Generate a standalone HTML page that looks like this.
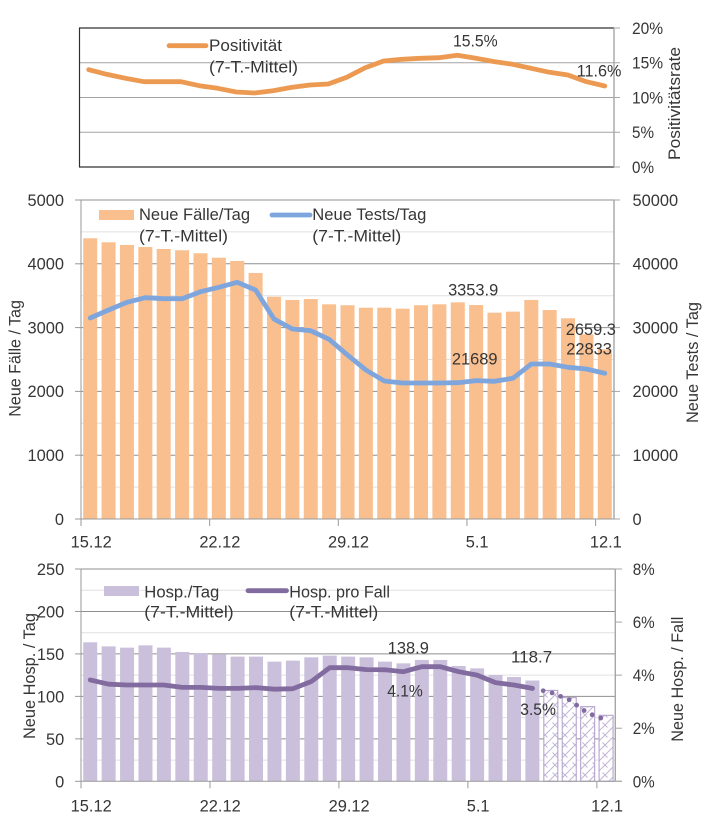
<!DOCTYPE html>
<html lang="de">
<head>
<meta charset="utf-8">
<title>Positivität, Neue Fälle und Hospitalisierungen</title>
<style>
html,body{margin:0;padding:0;background:#fff;width:709px;height:833px;overflow:hidden}
svg{display:block;filter:blur(0.35px)}
text{font-family:"Liberation Sans",sans-serif;font-size:16.5px;fill:#363636}
</style>
</head>
<body>
<svg id="chart" xmlns="http://www.w3.org/2000/svg" width="709" height="833" viewBox="0 0 709 833">
  <defs>
    <pattern id="hatch" patternUnits="userSpaceOnUse" width="10" height="10">
      <rect width="10" height="10" fill="#ffffff"/>
      <path d="M-1 11 L11 -1 M-1 1 L1 -1 M9 11 L11 9 M2.5 2.5 L7.5 7.5" stroke="#c2b5d6" stroke-width="1" fill="none"/>
    </pattern>
  </defs>
  <g id="top-panel"></g>
  <g id="mid-panel"></g>
  <g id="bottom-panel"></g>
</svg>
<script>
// ---------- data ----------
const dayCount = 29;
const dateTickIndex = [0, 7, 14, 21, 28];
const dateTickLabels = ['15.12', '22.12', '29.12', '5.1', '12.1'];

const positivity = [14.0, 13.33, 12.76, 12.28, 12.28, 12.28, 11.7, 11.32, 10.79, 10.65, 10.98, 11.46, 11.8, 11.94, 12.9, 14.29, 15.25, 15.49, 15.64, 15.73, 16.07, 15.64, 15.16, 14.77, 14.2, 13.62, 13.24, 12.28, 11.65];
const positivityTicks = [0, 5, 10, 15, 20];
const positivityTickLabels = ['0%', '5%', '10%', '15%', '20%'];

const newCases = [4400, 4337, 4295, 4263, 4232, 4212, 4165, 4096, 4044, 3856, 3484, 3433, 3448, 3365, 3350, 3312, 3312, 3296, 3350, 3365, 3396, 3353.9, 3234, 3250, 3433, 3276, 3146, 2895, 2659.3];
const newTests = [31505, 32759, 33960, 34692, 34535, 34535, 35632, 36312, 37096, 35893, 31348, 29781, 29520, 28161, 25705, 23354, 21630, 21316, 21316, 21316, 21369, 21689, 21577, 22048, 24295, 24295, 23772, 23511, 22833];
const caseTicks = [0, 1000, 2000, 3000, 4000, 5000];
const caseMinorTicks = [500, 1500, 2500, 3500, 4500];
const testTicks = [0, 10000, 20000, 30000, 40000, 50000];

const hospitalised = [163.7, 158.9, 157.4, 160.1, 157.4, 152.3, 151.1, 149.5, 146.8, 146.8, 140.9, 142.1, 146, 148, 146.8, 146, 140.9, 138.9, 142.9, 142.9, 135.8, 133, 125.2, 122.8, 118.7];
const hospitalisedForecast = [107, 98.5, 87.9, 77.7];
const hospPerCase = [3.82, 3.66, 3.63, 3.63, 3.63, 3.54, 3.54, 3.5, 3.5, 3.53, 3.47, 3.49, 3.76, 4.28, 4.28, 4.21, 4.2, 4.13, 4.32, 4.32, 4.13, 4.0, 3.72, 3.63, 3.5];
const hospPerCaseForecast = [3.5, 3.35, 3.07, 2.57, 2.31];
const hospTicks = [0, 50, 100, 150, 200, 250];
const hospMinorTicks = [25, 75, 125, 175, 225];
const rateTicks = [0, 2, 4, 6, 8];
const rateTickLabels = ['0%', '2%', '4%', '6%', '8%'];

// ---------- axis functions ----------
const NS = 'http://www.w3.org/2000/svg';
const HOSP_RIGHT = 615.3;
const xTopBand = i => 79.5 + (614 - 79.5) / dayCount * (i + 0.5);
const xBand = i => 81 + (614 - 81) / dayCount * (i + 0.5);
const xBandLeft = i => 81 + (614 - 81) / dayCount * i;
const xHospBand = i => 81 + (HOSP_RIGHT - 81) / dayCount * (i + 0.5);
const xHospBandLeft = i => 81 + (HOSP_RIGHT - 81) / dayCount * i;
const yPositivity = v => 167 - v / 20 * 139;
const yCases = v => 519 - v / 5000 * 319;
const yTests = v => 519 - v / 50000 * 319;
const yHosp = v => 781.3 - v / 250 * 212.3;
const yRate = v => 781.3 - v / 8 * 212.3;

// ---------- helpers ----------
function textWidth(s) {
  let w = 0;
  for (const c of s) {
    if (c === '.') w += 4.53;
    else if (c === '%') w += 12.87;
    else w += 9.13;
  }
  return w;
}
function addLine(parent, name, x1, y1, x2, y2, color, width) {
  const el = document.createElementNS(NS, 'line');
  
  
  el.setAttribute('x1', x1);
  el.setAttribute('y1', y1);
  el.setAttribute('x2', x2);
  el.setAttribute('y2', y2);
  el.setAttribute('stroke', color);
  el.setAttribute('stroke-width', width);
  parent.appendChild(el);
  return el;
}
function addText(parent, name, str, x, y, anchor, length, rotate) {
  const el = document.createElementNS(NS, 'text');
  
  
  el.setAttribute('x', x);
  el.setAttribute('y', y);
  el.setAttribute('text-anchor', anchor || 'start');
  if (length) {
    el.setAttribute('textLength', length);
    el.setAttribute('lengthAdjust', 'spacingAndGlyphs');
  }
  if (rotate) el.setAttribute('transform', 'rotate(-90 ' + x + ' ' + y + ')');
  el.textContent = str;
  parent.appendChild(el);
  return el;
}
function addNumber(parent, name, str, x, y, anchor) {
  return addText(parent, name, str, x, y, anchor, textWidth(str));
}
function addRect(parent, name, x, y, w, h, fill, stroke) {
  const el = document.createElementNS(NS, 'rect');
  
  
  el.setAttribute('x', x);
  el.setAttribute('y', y);
  el.setAttribute('width', w);
  el.setAttribute('height', h);
  el.setAttribute('fill', fill);
  if (stroke) {
    el.setAttribute('stroke', stroke);
    el.setAttribute('stroke-width', 1.1);
  }
  parent.appendChild(el);
  return el;
}
function addPolyline(parent, name, values, xFn, yFn, color, width, offset) {
  const el = document.createElementNS(NS, 'polyline');
  
  
  el.setAttribute('points', values.map((v, i) => xFn(i + (offset || 0)).toFixed(1) + ',' + yFn(v).toFixed(1)).join(' '));
  el.setAttribute('fill', 'none');
  el.setAttribute('stroke', color);
  el.setAttribute('stroke-width', width);
  el.setAttribute('stroke-linecap', 'round');
  el.setAttribute('stroke-linejoin', 'round');
  parent.appendChild(el);
  return el;
}
function addDateAxis(parent, baseY, labelY, bandFn, leftFn) {
  dateTickIndex.forEach((idx, k) => {
    addLine(parent, 'x-axis-tick', leftFn(idx), baseY, leftFn(idx), baseY + 7, '#999999', 1);
    addNumber(parent, 'x-axis-label', dateTickLabels[k], bandFn(idx) + 1, labelY, 'middle');
  });
}

// ---------- top panel ----------
const posPanel = document.getElementById('top-panel');
[5, 10, 15].forEach(v => {
  addLine(posPanel, 'gridline', 79.5, yPositivity(v), 614, yPositivity(v), '#a3a3a3', 1);
});
addLine(posPanel, 'plot-top-border', 79, yPositivity(20), 614, yPositivity(20), '#303030', 1.2);
addLine(posPanel, 'plot-bottom-border', 79, yPositivity(0), 614, yPositivity(0), '#303030', 1.2);
addLine(posPanel, 'plot-left-border', 79.5, yPositivity(20), 79.5, yPositivity(0), '#303030', 1.2);
addLine(posPanel, 'right-axis-line', 614, yPositivity(20), 614, yPositivity(0), '#a6a6a6', 1.4);
positivityTicks.forEach((v, k) => {
  addLine(posPanel, 'right-axis-tick', 614, yPositivity(v), 620, yPositivity(v), '#a6a6a6', 1);
  addNumber(posPanel, 'right-axis-label', positivityTickLabels[k], 632, yPositivity(v) + 5.8, 'start');
});
addPolyline(posPanel, 'positivity-line', positivity, xTopBand, yPositivity, '#ec9a52', 4.8);
addLine(posPanel, 'legend-positivity-swatch', 169, 45.7, 206, 45.7, '#ec9a52', 4.8).setAttribute('stroke-linecap', 'round');
addText(posPanel, 'legend-positivity-label', 'Positivität', 209, 51, 'start', 73);
addText(posPanel, 'legend-positivity-sublabel', '(7-T.-Mittel)', 209, 72.7, 'start', 89);
addNumber(posPanel, 'label-peak-positivity', '15.5%', xTopBand(20) + 18, yPositivity(positivity[20]) - 8.6, 'middle');
addNumber(posPanel, 'label-last-positivity', '11.6%', xTopBand(28) - 5.7, yPositivity(positivity[28]) - 9.3, 'middle');
addText(posPanel, 'right-axis-title', 'Positivitätsrate', 680, 160, 'start', 113, true);

// ---------- middle panel ----------
const casePanel = document.getElementById('mid-panel');
caseMinorTicks.forEach(v => {
  addLine(casePanel, 'minor-gridline', 81, yCases(v), 614, yCases(v), '#e0e0e0', 1);
});
caseTicks.slice(1).forEach(v => {
  addLine(casePanel, 'gridline', 81, yCases(v), 614, yCases(v), '#8f8f8f', 1);
});
newCases.forEach((v, i) => {
  addRect(casePanel, 'case-bar', xBand(i) - 7, yCases(v), 14, yCases(0) - yCases(v), '#f9bf8e');
});
addLine(casePanel, 'left-axis-line', 81, yCases(5000), 81, yCases(0) + 7, '#999999', 1);
addLine(casePanel, 'right-axis-line', 614, yCases(5000), 614, yCases(0), '#a6a6a6', 1.4);
addLine(casePanel, 'x-axis-line', 81, yCases(0), 620, yCases(0), '#999999', 1);
caseTicks.forEach(v => {
  addLine(casePanel, 'left-axis-tick', 75, yCases(v), 81, yCases(v), '#999999', 1);
  addNumber(casePanel, 'left-axis-label', String(v), 64, yCases(v) + 5.8, 'end');
});
testTicks.forEach(v => {
  addLine(casePanel, 'right-axis-tick', 614, yTests(v), 620, yTests(v), '#a6a6a6', 1);
  addNumber(casePanel, 'right-axis-label', String(v), 632.5, yTests(v) + 5.8, 'start');
});
addDateAxis(casePanel, yCases(0), 547.7, xBand, xBandLeft);
addPolyline(casePanel, 'tests-line', newTests, xBand, yTests, '#7fa6dc', 4.8);
addRect(casePanel, 'legend-cases-swatch', 99, 210, 35, 10, '#f9bf8e');
addText(casePanel, 'legend-cases-label', 'Neue Fälle/Tag', 139, 220, 'start', 111);
addText(casePanel, 'legend-cases-sublabel', '(7-T.-Mittel)', 139, 241.3, 'start', 89);
addLine(casePanel, 'legend-tests-swatch', 272, 215, 310, 215, '#7fa6dc', 4.8).setAttribute('stroke-linecap', 'round');
addText(casePanel, 'legend-tests-label', 'Neue Tests/Tag', 312.3, 220, 'start', 114);
addText(casePanel, 'legend-tests-sublabel', '(7-T.-Mittel)', 312.3, 241.3, 'start', 89);
addNumber(casePanel, 'label-cases-mid', '3353.9', xBand(21) - 3, yCases(newCases[21]) - 9.3, 'middle');
addNumber(casePanel, 'label-cases-last', '2659.3', xBand(28) - 14, yCases(newCases[28]) - 14.3, 'middle');
addNumber(casePanel, 'label-tests-last', '22833', xBand(28) - 15.7, yTests(newTests[28]) - 19, 'middle');
addNumber(casePanel, 'label-tests-mid', '21689', xBand(21) - 1.4, yTests(newTests[21]) - 16.3, 'middle');
addText(casePanel, 'left-axis-title', 'Neue Fälle / Tag', 20.7, 416.7, 'start', 116.7, true);
addText(casePanel, 'right-axis-title', 'Neue Tests / Tag', 698, 423, 'start', 121, true);

// ---------- bottom panel ----------
const hospPanel = document.getElementById('bottom-panel');
hospMinorTicks.forEach(v => {
  addLine(hospPanel, 'minor-gridline', 81, yHosp(v), HOSP_RIGHT, yHosp(v), '#e0e0e0', 1);
});
hospTicks.slice(1).forEach(v => {
  addLine(hospPanel, 'gridline', 81, yHosp(v), HOSP_RIGHT, yHosp(v), '#8f8f8f', 1);
});
hospitalised.forEach((v, i) => {
  addRect(hospPanel, 'hospital-bar', xHospBand(i) - 7, yHosp(v), 14, yHosp(0) - yHosp(v), '#cbc0dc');
});
hospitalisedForecast.forEach((v, i) => {
  addRect(hospPanel, 'hospital-forecast-bar', xHospBand(i + hospitalised.length) - 7, yHosp(v), 14, yHosp(0) - yHosp(v), 'url(#hatch)', '#b5a5cd');
});
addLine(hospPanel, 'left-axis-line', 81, yHosp(250), 81, yHosp(0) + 7, '#999999', 1);
addLine(hospPanel, 'right-axis-line', HOSP_RIGHT, yHosp(250), HOSP_RIGHT, yHosp(0), '#a6a6a6', 1.4);
addLine(hospPanel, 'x-axis-line', 81, yHosp(0), 622, yHosp(0), '#999999', 1);
hospTicks.forEach(v => {
  addLine(hospPanel, 'left-axis-tick', 75, yHosp(v), 81, yHosp(v), '#999999', 1);
  addNumber(hospPanel, 'left-axis-label', String(v), 64.3, yHosp(v) + 6, 'end');
});
rateTicks.forEach((v, k) => {
  addLine(hospPanel, 'right-axis-tick', HOSP_RIGHT, yRate(v), 622, yRate(v), '#a6a6a6', 1);
  addNumber(hospPanel, 'right-axis-label', rateTickLabels[k], 632.7, yRate(v) + 6, 'start');
});
addDateAxis(hospPanel, yHosp(0), 811.7, xHospBand, xHospBandLeft);
addPolyline(hospPanel, 'hospital-rate-line', hospPerCase, xHospBand, yRate, '#826b9f', 4.8);
const dotted = addPolyline(hospPanel, 'hospital-rate-forecast-line', hospPerCaseForecast, xHospBand, yRate, '#826b9f', 4.8, 24);
dotted.setAttribute('stroke-dasharray', '0 11 ' + '0 9.2 '.repeat(9));
addRect(hospPanel, 'legend-hospital-swatch', 104, 586, 35, 10, '#cbc0dc');
addText(hospPanel, 'legend-hospital-label', 'Hosp./Tag', 144.3, 597.3, 'start', 75);
addText(hospPanel, 'legend-hospital-sublabel', '(7-T.-Mittel)', 144.3, 617.7, 'start', 89.4);
addLine(hospPanel, 'legend-rate-swatch', 248, 590.7, 286.5, 590.7, '#826b9f', 4.8).setAttribute('stroke-linecap', 'round');
addText(hospPanel, 'legend-rate-label', 'Hosp. pro Fall', 289.3, 597.3, 'start', 100.7);
addText(hospPanel, 'legend-rate-sublabel', '(7-T.-Mittel)', 289.3, 617.7, 'start', 89);
addNumber(hospPanel, 'label-hospital-mid', '138.9', xHospBand(17) + 4.9, yHosp(hospitalised[17]) - 10, 'middle');
addNumber(hospPanel, 'label-hospital-last', '118.7', xHospBand(24) - 0.8, yHosp(hospitalised[24]) - 17.8, 'middle');
addNumber(hospPanel, 'label-rate-mid', '4.1%', xHospBand(17) + 1.6, yRate(hospPerCase[17]) + 25, 'middle');
addNumber(hospPanel, 'label-rate-last', '3.5%', xHospBand(24) + 5.7, yRate(hospPerCase[24]) + 26.6, 'middle');
addText(hospPanel, 'left-axis-title', 'Neue Hosp. / Tag', 35, 739, 'start', 126, true);
addText(hospPanel, 'right-axis-title', 'Neue Hosp. / Fall', 683, 741.7, 'start', 125, true);
</script>
</body>
</html>
